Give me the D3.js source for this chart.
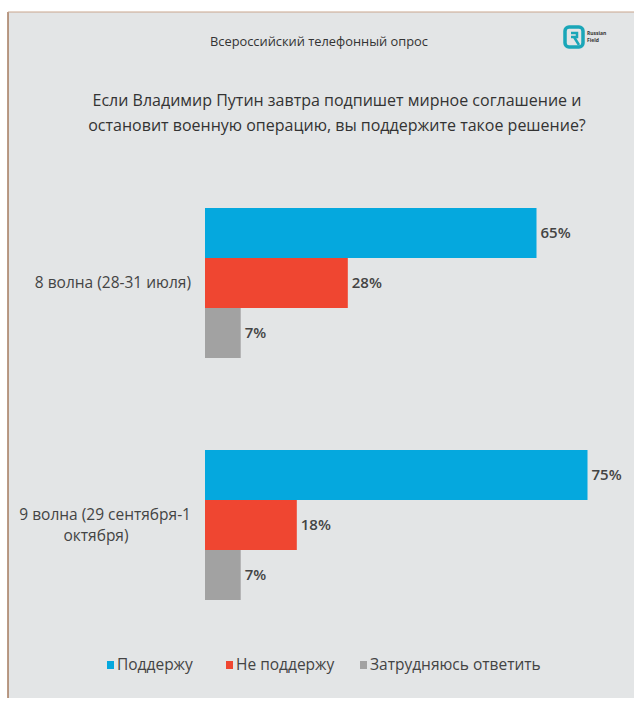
<!DOCTYPE html>
<html><head><meta charset="utf-8">
<script src="https://cdn.jsdelivr.net/npm/d3@7"></script>
<style>html,body{margin:0;padding:0;background:#fff;}svg{display:block;font-family:"Open Sans","Noto Sans",sans-serif;}</style>
</head><body>
<script>
const waves = [["8 волна (28-31 июля)"], ["9 волна (29 сентября-1", "октября)"]];
const seriesNames = ["Поддержу", "Не поддержу", "Затрудняюсь ответить"];
const support = [65, 75];
const notSupport = [28, 18];
const undecided = [7, 7];
const colors = ["#05a8de", "#ef4631", "#a2a2a2"];
const titleText = "Всероссийский телефонный опрос";
const questionLines = ["Если Владимир Путин завтра подпишет мирное соглашение и", "остановит военную операцию, вы поддержите такое решение?"];

const W = 634, H = 701;
const svg = d3.select("body").append("svg").attr("width", W).attr("height", H);
svg.append("rect").attr("x", 8).attr("y", 12).attr("width", W - 8).attr("height", H - 15).attr("fill", "#e3e5e6");
svg.append("line").attr("x1", 8).attr("x2", 8).attr("y1", 12).attr("y2", H - 3).attr("stroke", "#a57a5e").attr("stroke-width", 1.5);
svg.append("line").attr("x1", 8).attr("x2", W).attr("y1", 12).attr("y2", 12).attr("stroke", "#c9a68e").attr("stroke-width", 1);

svg.append("text").attr("x", 319).attr("y", 46).attr("text-anchor", "middle").attr("font-size", 13).attr("fill", "#333")
  .attr("textLength", 218).attr("lengthAdjust", "spacingAndGlyphs").text(titleText);
svg.selectAll(".q").data(questionLines).join("text").attr("x", 337).attr("y", (d, i) => 106 + i * 25)
  .attr("text-anchor", "middle").attr("font-size", 16).attr("fill", "#333").text(d => d);

// logo
const logo = svg.append("g").attr("transform", "translate(565,27)");
logo.append("rect").attr("width", 18).attr("height", 20).attr("rx", 4).attr("fill", "none").attr("stroke", "#1aa6b8").attr("stroke-width", 3.5);
logo.append("path").attr("d", "M6,6 h6 v4 h-6 M9,10 l5,8").attr("fill", "none").attr("stroke", "#1aa6b8").attr("stroke-width", 2.5);
logo.append("text").attr("x", 22).attr("y", 8).attr("font-size", 5).attr("font-weight", "bold").attr("fill", "#333").text("Russian");
logo.append("text").attr("x", 22).attr("y", 15).attr("font-size", 5).attr("font-weight", "bold").attr("fill", "#333").text("Field");

const x = d3.scaleLinear().domain([0, 100]).range([205, 715]);
const y0 = d3.scaleBand().domain(d3.range(waves.length)).range([208, 692]).paddingInner(0);
const y1 = d3.scaleBand().domain(d3.range(seriesNames.length)).range([0, 150]);
const series = [support, notSupport, undecided];

const groups = svg.selectAll(".grp").data(waves).join("g").attr("transform", (d, i) => `translate(0,${y0(i)})`);
groups.each(function (w, gi) {
  const g = d3.select(this);
  series.forEach((vals, si) => {
    g.append("rect").attr("x", x(0)).attr("y", y1(si)).attr("width", x(vals[gi]) - x(0)).attr("height", y1.bandwidth()).attr("fill", colors[si]);
    g.append("text").attr("x", x(vals[gi]) + 4).attr("y", y1(si) + y1.bandwidth() / 2 + 5).attr("font-size", 15).attr("font-weight", 600).attr("fill", "#444").text(vals[gi] + "%");
  });
  const n = w.length;
  w.forEach((line, li) => {
    g.append("text").attr("x", li === 0 ? 191 : 96).attr("text-anchor", li === 0 ? "end" : "middle")
      .attr("y", 75 + 5 + (li - (n - 1) / 2) * 21).attr("font-size", 15.5).attr("fill", "#444").text(line);
  });
});

const legX = [107, 226, 360];
const leg = svg.selectAll(".leg").data(seriesNames).join("g").attr("transform", (d, i) => `translate(${legX[i]},665)`);
leg.append("rect").attr("x", 0).attr("y", -4).attr("width", 7).attr("height", 8).attr("fill", (d, i) => colors[i]);
leg.append("text").attr("x", 10).attr("y", 5).attr("font-size", 15.5).attr("fill", "#444").text(d => d);
</script>
</body></html>
